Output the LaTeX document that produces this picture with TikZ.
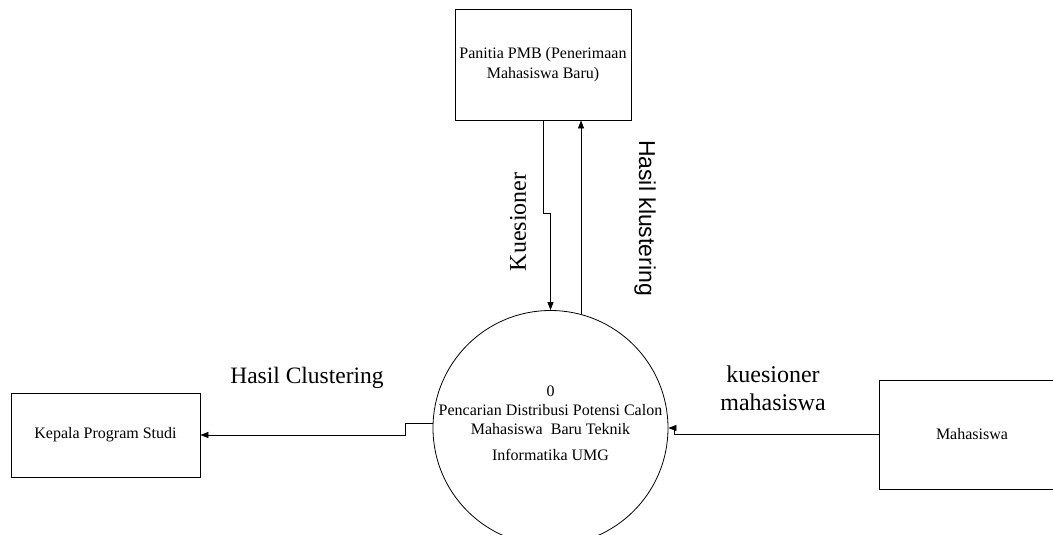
\documentclass[tikz,border=0pt]{standalone}
\usepackage{fontspec}
\setmainfont{Liberation Serif}
\newfontfamily\labelsans{Liberation Sans}
\usetikzlibrary{arrows.meta,calc}
\begin{document}
\begin{tikzpicture}[x=1pt,y=-1pt,
  entity/.style={draw, line width=0.8pt, rectangle, inner sep=0pt, align=center,
    font=\fontsize{16}{20}\selectfont},
  process/.style={draw, line width=0.8pt, circle, minimum size=235pt, inner sep=0pt},
  flow/.style={line width=0.8pt, -{Triangle[length=8pt,width=6pt]}},
  flowlabel/.style={font=\fontsize{24}{28}\selectfont, align=center, inner sep=0pt},
  proclabel/.style={font=\fontsize{16}{19}\selectfont, align=center, inner sep=0pt},
]
\clip (0,0) rectangle (1053,535);

% external entities
\node[entity, minimum width=176pt, minimum height=111pt] (pmb) at (543,64.5)
  {Panitia PMB (Penerimaan\\Mahasiswa Baru)};
\node[entity, minimum width=189pt, minimum height=84pt] (kps) at (105.5,435)
  {Kepala Program Studi};
\node[entity, minimum width=186pt, minimum height=109pt] (mhs) at (972,434.5)
  {Mahasiswa};

% process
\node[process] (proc) at (550.5,428) {};
\node[proclabel] (proctext) at (550.5,423)
  {0\\Pencarian Distribusi Potensi Calon\\Mahasiswa~ Baru Teknik\\[7pt]Informatika UMG};

% data flows
\draw[flow] (pmb.south) -- ++(0,93) -| (proc.north);
\draw[flow] (proc.75) -- (proc.75 |- pmb.south);
\draw[flow] (proc.178) -- ++(-27,0) |- (kps.east);
\draw[flow] (mhs.west) -- ++(-204,0) |- (proc.east);

% flow labels
\node[flowlabel, rotate=90] (lblkues) at (518,222) {Kuesioner};
\node[flowlabel, font=\labelsans\fontsize{23}{27}\selectfont, rotate=-90] (lblklus) at (645,218) {Hasil klustering};
\node[flowlabel, font=\fontsize{23.5}{28}\selectfont] (lblclus) at (307,378) {Hasil Clustering};
\node[flowlabel] (lblmhs) at (773,388) {kuesioner\\mahasiswa};
\end{tikzpicture}
\end{document}
